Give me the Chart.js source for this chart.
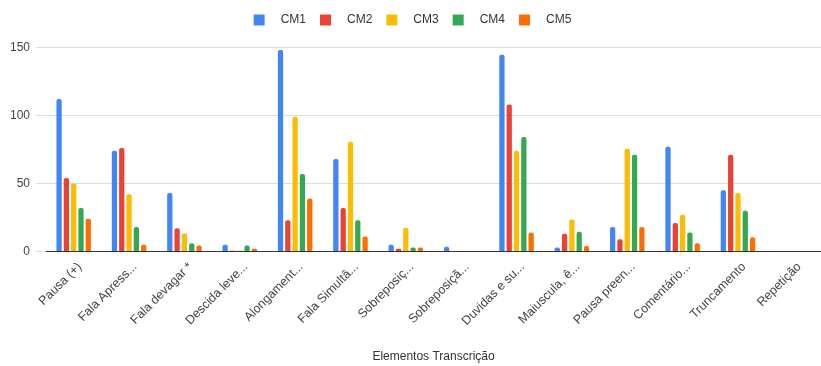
<!DOCTYPE html>
<html>
<head>
<meta charset="utf-8">
<script src="https://cdn.jsdelivr.net/npm/chart.js@4"></script>
<style>
  html, body { margin: 0; padding: 0; background: #fff; }
  #wrap { width: 821px; height: 366px; position: relative; }
</style>
</head>
<body>
<div id="wrap"><canvas id="chart"></canvas></div>
<script>
// categories (x axis, truncated like the source)
var categories = ["Pausa (+)", "Fala Apress...", "Fala devagar *", "Descida leve...", "Alongament...",
  "Fala Simultâ...", "Sobreposiç...", "Sobreposiçã...", "Duvidas e su...", "Maiuscula, ê...",
  "Pausa preen...", "Comentário...", "Truncamento", "Repetição"];

// series values
var cm1 = [112, 74, 43, 5, 148, 68, 5, 3.5, 144.5, 3, 18, 77, 45, 0];
var cm2 = [54, 76, 17, 0.5, 23, 32, 2, 0, 108, 13, 9, 21, 71, 0];
var cm3 = [50, 42, 13.5, 0.5, 99, 80.5, 17.5, 0, 74, 23.5, 75.5, 27, 43, 0];
var cm4 = [32, 18, 6, 4.5, 57, 23, 3, 0, 84, 14.5, 71, 14, 30, 0];
var cm5 = [24, 5, 4.5, 2, 39, 11, 3, 0, 14, 4, 18, 6, 10.5, 0];

var seriesNames = ["CM1", "CM2", "CM3", "CM4", "CM5"];
var yTicks = [0, 50, 100, 150];

var colors = ["#4285F4", "#EA4335", "#FBBC04", "#34A853", "#FF6D01"];
var allData = [cm1, cm2, cm3, cm4, cm5];

var datasets = [];
for (var i = 0; i < seriesNames.length; i++) {
  datasets.push({
    label: seriesNames[i],
    data: allData[i],
    backgroundColor: colors[i],
    borderRadius: { topLeft: 2, topRight: 2 },
    borderSkipped: false,
    categoryPercentage: 0.66,
    barPercentage: 0.72
  });
}

Chart.defaults.font.family = "'Liberation Sans', Arial, sans-serif";
Chart.defaults.color = "#444";

new Chart(document.getElementById("chart"), {
  type: "bar",
  data: { labels: categories, datasets: datasets },
  options: {
    responsive: true,
    maintainAspectRatio: false,
    animation: false,
    layout: { padding: { left: 4, right: 0, top: 0, bottom: 0 } },
    plugins: {
      legend: {
        position: "top",
        weight: 1000,
        labels: {
          boxWidth: 11, boxHeight: 11, padding: 14, font: { size: 12 }, color: "#333",
          // a bit more room between swatch and name, like the original
          generateLabels: function (chart) {
            var items = Chart.defaults.plugins.legend.labels.generateLabels(chart);
            items.forEach(function (it) { it.text = "   " + it.text; });
            return items;
          }
        }
      },
      // empty spacer between legend and plot
      subtitle: { display: true, text: "", weight: 500, font: { size: 1 }, padding: 5 },
      tooltip: { enabled: false }
    },
    scales: {
      x: {
        grid: { display: false },
        border: { color: "#333", width: 1 },
        ticks: { minRotation: 45, maxRotation: 45, autoSkip: false, font: { size: 12.5 }, color: "#444", padding: 0, labelOffset: 6 },
        title: { display: true, text: "Elementos Transcrição", font: { size: 12 }, color: "#333", padding: { top: 21, bottom: 2 } }
      },
      y: {
        min: 0,
        max: 150,
        afterBuildTicks: function (axis) {
          axis.ticks = yTicks.map(function (v) { return { value: v }; });
        },
        grid: { color: "#dddddd", drawTicks: true, tickLength: 10 },
        border: { display: false },
        ticks: { font: { size: 12 }, color: "#444", padding: 6 }
      }
    }
  }
});
</script>
</body>
</html>
